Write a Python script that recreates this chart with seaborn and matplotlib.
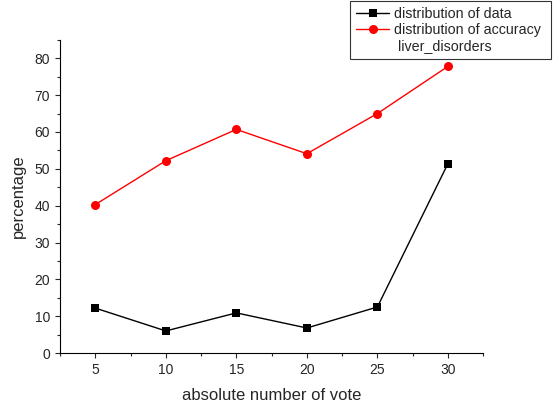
import matplotlib.pyplot as plt
from matplotlib.lines import Line2D
from matplotlib.ticker import MultipleLocator
import pandas as pd
import seaborn as sns

votes = [5, 10, 15, 20, 25, 30]
data_dist = [12.2, 6.0, 10.9, 6.8, 12.5, 51.4]
accuracy_dist = [40.3, 52.2, 60.7, 54.1, 65.0, 77.8]

sns.set_style("ticks")
plt.rcParams["font.family"] = ["Liberation Sans", "DejaVu Sans"]
plt.rcParams["font.size"] = 10

df = pd.DataFrame({"vote": votes, "data": data_dist, "acc": accuracy_dist})

fig = plt.figure(figsize=(5.56, 4.11), dpi=100)
ax = fig.add_axes([0.108, 0.141, 0.761, 0.762])

sns.lineplot(data=df, x="vote", y="data", ax=ax, color="black", marker="s",
             markersize=5.5, markeredgewidth=0, linewidth=1)
sns.lineplot(data=df, x="vote", y="acc", ax=ax, color="red", marker="o",
             markersize=6.5, markeredgewidth=0, linewidth=1)

ax.set_xlim(2.5, 32.5)
ax.set_ylim(0, 85)
ax.set_xticks(votes)
ax.xaxis.set_minor_locator(MultipleLocator(2.5))
ax.set_yticks(range(0, 81, 10))
ax.yaxis.set_minor_locator(MultipleLocator(5))
ax.tick_params(which="major", direction="out", length=3.6, width=0.8, labelsize=10)
ax.tick_params(which="minor", direction="out", length=2, width=0.8)
ax.set_xlabel("absolute number of vote", fontsize=12, labelpad=8)
ax.set_ylabel("percentage", fontsize=12, labelpad=6)
sns.despine(ax=ax)
for s in ["left", "bottom"]:
    ax.spines[s].set_linewidth(0.8)
    ax.spines[s].set_color("black")

handles = [
    Line2D([], [], color="black", marker="s", markersize=5.5, linewidth=1, markeredgewidth=0),
    Line2D([], [], color="red", marker="o", markersize=6.5, linewidth=1, markeredgewidth=0),
    Line2D([], [], color="none"),
]
labels = ["distribution of data", "distribution of accuracy ", " liver_disorders"]
leg = fig.legend(handles, labels, loc="upper right", bbox_to_anchor=(0.991, 0.998),
                 frameon=True, fancybox=False, edgecolor="black", fontsize=10.3,
                 handlelength=2.3, borderpad=0.45, labelspacing=0.12, handletextpad=0.3,
                 borderaxespad=0)
leg.get_frame().set_linewidth(0.8)

fig.savefig("out.png", dpi=100)
